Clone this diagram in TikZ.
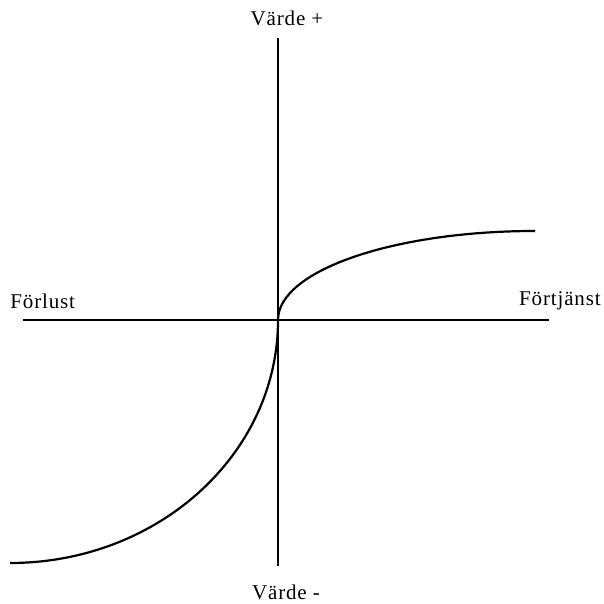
\documentclass[tikz,border=0pt]{standalone}
\usepackage{fontspec}
\setmainfont{Liberation Serif}
\usetikzlibrary{positioning}

\begin{document}
\begin{tikzpicture}[x=0.5pt, y=0.5pt,
  axis/.style={line width=1pt, black},
  curve/.style={line width=1.1pt, black},
  lbl/.style={font=\fontsize{10.5}{12}\selectfont\addfontfeature{LetterSpace=4}, inner sep=0pt}]

  \useasboundingbox (0,0) rectangle (604,604);

  % Axis end points
  \coordinate (o)   at (278,284);
  \coordinate (top) at (278,566);
  \coordinate (bot) at (278,38);
  \coordinate (lft) at (23,284);
  \coordinate (rgt) at (549,284);

  % Axes
  \draw[axis] (lft) -- (rgt);
  \draw[axis] (bot) -- (top);

  % Labels
  \node[lbl] (vplus)  at (287,586) {Värde +};
  \node[lbl] (vminus) at (286,12)  {Värde -};
  \node[lbl, anchor=west] (loss) at (10,303)  {Förlust};
  \node[lbl, anchor=east] (gain) at (601,303) {Förtjänst};

  % Value curve — two quarter ellipses meeting at the origin
  \coordinate (low) at (10,41);
  \draw[curve] (low) arc[start angle=-90, end angle=0, x radius=134pt, y radius=121.5pt]
    arc[start angle=180, end angle=90, x radius=128.5pt, y radius=44.5pt];
\end{tikzpicture}
\end{document}
